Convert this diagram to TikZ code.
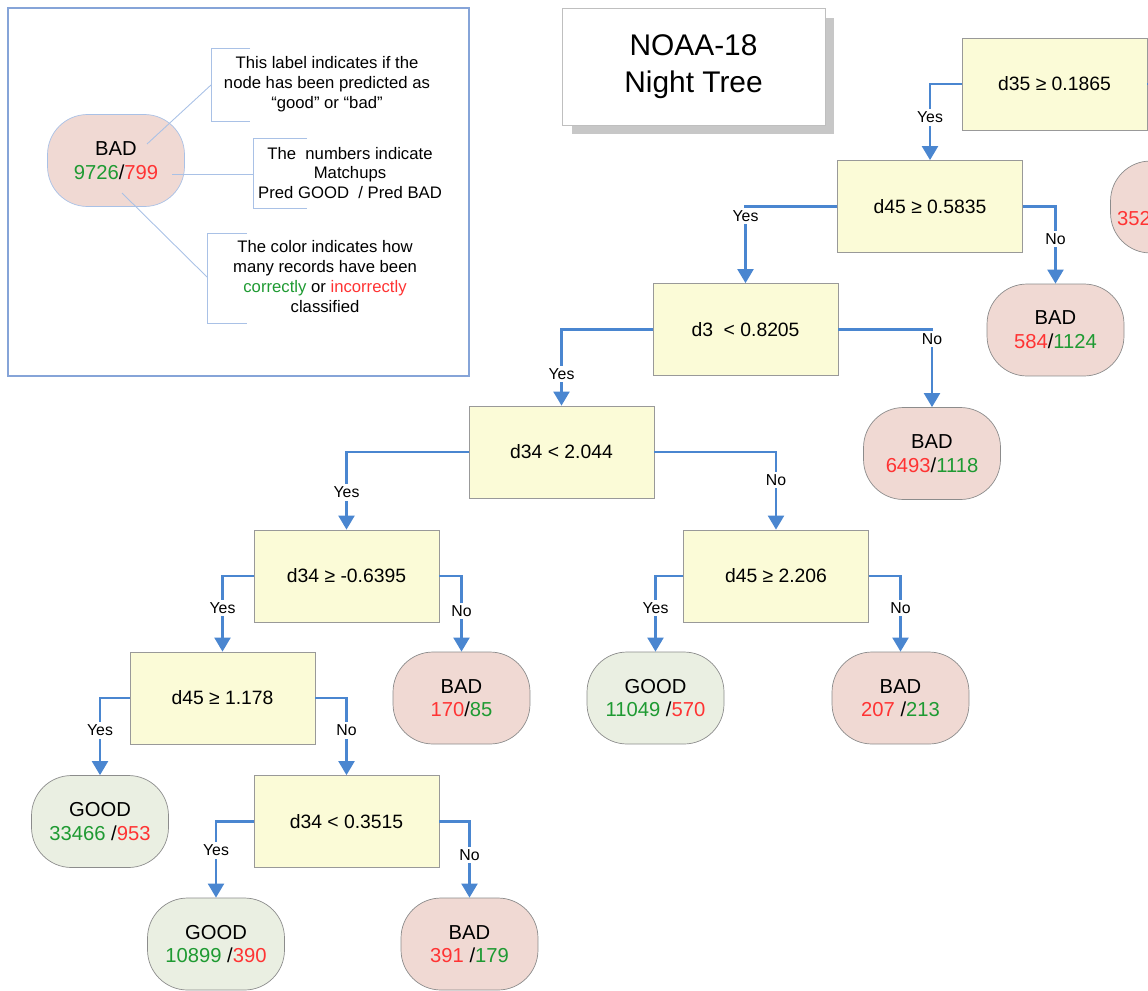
\documentclass[tikz,border=0pt]{standalone}
\usepackage{fontspec}
\setmainfont{Liberation Sans}
\usetikzlibrary{arrows.meta,shadows}
\definecolor{boxfill}{HTML}{FBFBD7}
\definecolor{badfill}{HTML}{F0D9D3}
\definecolor{goodfill}{HTML}{EAEFE2}
\definecolor{edgeblue}{HTML}{4A86D0}
\definecolor{okgreen}{HTML}{1E9A32}
\definecolor{errred}{HTML}{FF3333}
\definecolor{noteblue}{HTML}{A9C1E6}
\definecolor{frameblue}{HTML}{86A4D8}
\newcommand{\gn}[1]{\textcolor{okgreen}{#1}}
\newcommand{\rd}[1]{\textcolor{errred}{#1}}

\begin{document}
\begin{tikzpicture}[x=0.02cm, y=-0.02cm,
  cond/.style = {draw=black!40, fill=boxfill, minimum width=3.7cm, minimum height=1.84cm, font=\fontsize{11}{13}\selectfont},
  leaf/.style = {draw=black!45, rounded corners=0.8cm, minimum width=2.74cm, minimum height=1.84cm, align=center, font=\fontsize{11.5}{13.5}\selectfont},
  bad/.style = {leaf, fill=badfill},
  good/.style = {leaf, fill=goodfill},
  branch/.style = {draw=edgeblue, line width=1.6pt, -{Triangle[width=9pt, length=8pt]}},
  ans/.style = {fill=white, inner sep=1.5pt, font=\fontsize{9}{10}\selectfont},
  note/.style = {align=center, font=\fontsize{9.5}{11.3}\selectfont},
  callout/.style = {draw=noteblue, line width=0.5pt}]
\useasboundingbox (0,0) rectangle (1148,990);
\clip (0,0) rectangle (1148,990);

\draw[frameblue, line width=0.8pt] (8,8) rectangle (469,376);
\node[bad, draw=noteblue] (key) at (116,160.5) {BAD\\\gn{9726}/\rd{799}};
\node[note] (t1) at (327,84) {This label indicates if the\\node has been predicted as\\“good” or “bad”};
\node[note] (t2) at (350,173) {The~~numbers indicate\\Matchups\\Pred GOOD~~/ Pred BAD};
\node[note] (t3) at (325,276.5) {The color indicates how\\many records have been\\\gn{correctly} or \rd{incorrectly}\\classified};
\draw[callout] (250,48) -| (211,121) -- (250,121);
\draw[callout] (307,138) -| (253,208) -- (307,208);
\draw[callout] (247,233) -| (207,323) -- (247,323);
\coordinate (p1) at (147,144);
\coordinate (p2) at (172,174);
\coordinate (p3) at (122,193);
\coordinate (c1) at (211,85);
\coordinate (c2) at (253,174);
\coordinate (c3) at (207,277);
\draw[callout] (p1) -- (c1);
\draw[callout] (p2) -- (c2);
\draw[callout] (p3) -- (c3);

\node[draw=black!25, fill=white, minimum width=5.26cm, minimum height=2.34cm, align=center, font=\fontsize{17}{21}\selectfont, drop shadow={fill=black!22, opacity=1, shadow xshift=0.19cm, shadow yshift=-0.19cm}] (title) at (693.5,66.5) {NOAA-18\\Night Tree};

\node[cond] (root) at (1054.5,84) {d35 ≥ 0.1865};
\node[cond] (n1) at (930,206.5) {d45 ≥ 0.5835};
\node[cond] (n2) at (745.5,329.5) {d3 ~< 0.8205};
\node[cond] (n3) at (561.5,452) {d34 < 2.044};
\node[cond] (n4) at (346.5,576) {d34 ≥ -0.6395};
\node[cond] (n5) at (776,576) {d45 ≥ 2.206};
\node[cond] (n6) at (222.5,698) {d45 ≥ 1.178};
\node[cond] (n7) at (346.5,821.5) {d34 < 0.3515};

\node[bad] (l0) at (1179,207) {BAD\\\rd{352}\phantom{0 /000000}};
\node[bad] (l1) at (1055.5,330) {BAD\\\rd{584}/\gn{1124}};
\node[bad] (l2) at (932,453.5) {BAD\\\rd{6493}/\gn{1118}};
\node[bad] (l3) at (461.5,698) {BAD\\\rd{170}/\gn{85}};
\node[good] (l4) at (655.5,698) {GOOD\\\gn{11049} /\rd{570}};
\node[bad] (l5) at (900.5,698) {BAD\\\rd{207} /\gn{213}};
\node[good] (l6) at (100,821.5) {GOOD\\\gn{33466} /\rd{953}};
\node[good] (l7) at (216,944) {GOOD\\\gn{10899} /\rd{390}};
\node[bad] (l8) at (469.5,944) {BAD\\\rd{391} /\gn{179}};

\draw[branch] (root.west) -| node[ans, pos=0.72] {Yes} (n1.north);
\draw[branch] (root.east) -| node[ans, pos=0.72] {No} (l0.north);
\draw[branch] (n1.west) -| node[ans, pos=0.56] {Yes} (n2.north);
\draw[branch] (n1.east) -| node[ans, pos=0.71] {No} (l1.north);
\draw[branch] (n2.west) -| node[ans, pos=0.79] {Yes} (n3.north);
\draw[branch] (n2.east) -| node[ans, pos=0.56] {No} (l2.north);
\draw[branch] (n3.west) -| node[ans, pos=0.76] {Yes} (n4.north);
\draw[branch] (n3.east) -| node[ans, pos=0.68] {No} (n5.north);
\draw[branch] (n4.west) -| node[ans, pos=0.71] {Yes} (n6.north);
\draw[branch] (n4.east) -| node[ans, pos=0.73] {No} (l3.north);
\draw[branch] (n5.west) -| node[ans, pos=0.71] {Yes} (l4.north);
\draw[branch] (n5.east) -| node[ans, pos=0.71] {No} (l5.north);
\draw[branch] (n6.west) -| node[ans, pos=0.71] {Yes} (l6.north);
\draw[branch] (n6.east) -| node[ans, pos=0.71] {No} (n7.north);
\draw[branch] (n7.west) -| node[ans, pos=0.69] {Yes} (l7.north);
\draw[branch] (n7.east) -| node[ans, pos=0.72] {No} (l8.north);
\end{tikzpicture}
\end{document}
